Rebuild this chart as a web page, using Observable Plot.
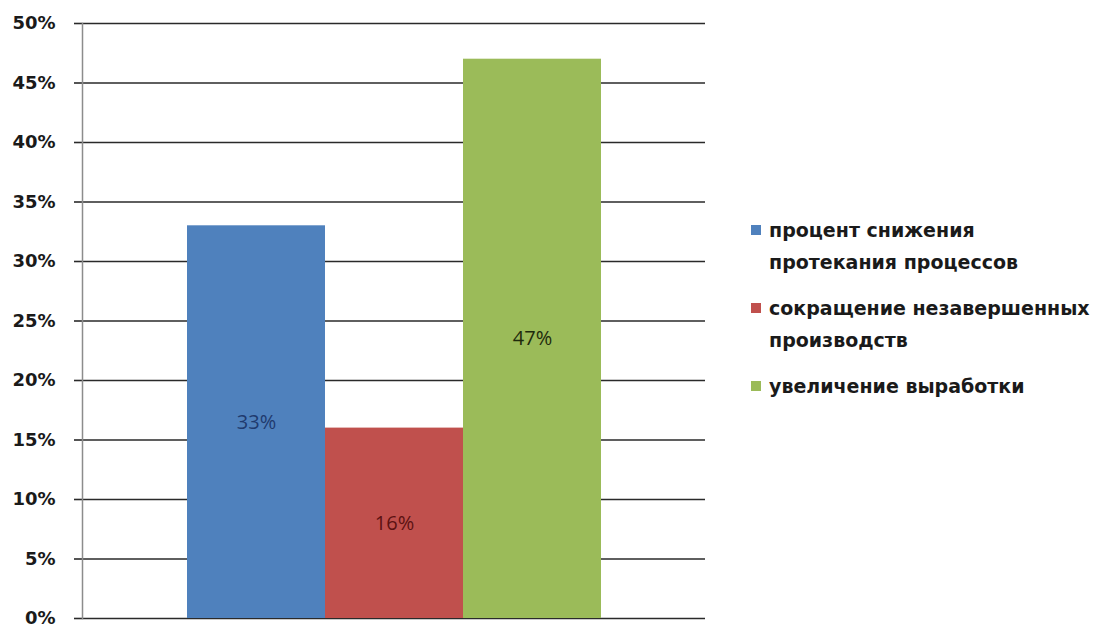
<!DOCTYPE html>
<html>
<head>
<meta charset="utf-8">
<script src="https://cdn.jsdelivr.net/npm/d3@7"></script>
<script src="https://cdn.jsdelivr.net/npm/@observablehq/plot@0.6"></script>
<style>
  html, body { margin: 0; padding: 0; background: #fff; }
  #wrap { position: relative; width: 1098px; height: 625px; overflow: hidden; }
  #chart { position: absolute; left: 0; top: 0; }
  #legend { position: absolute; left: 751px; top: 214px; font-family: "DejaVu Sans", sans-serif; font-weight: bold; font-size: 19px; color: #1a1a1a; white-space: nowrap; }
  .item { position: relative; padding-left: 18px; line-height: 32px; margin-bottom: 14px; }
  .sw { position: absolute; left: 0; top: 11px; width: 10px; height: 10px; }
</style>
</head>
<body>
<div id="wrap">
  <div id="chart"></div>
  <div id="legend"></div>
</div>
<script>
const categories = ["процент снижения протекания процессов", "сокращение незавершенных производств", "увеличение выработки"];
const legendLines = [["процент снижения", "протекания процессов"], ["сокращение незавершенных", "производств"], ["увеличение выработки"]];
const values = [0.33, 0.16, 0.47];
const labels = ["33%", "16%", "47%"];
const colors = ["#4f81bd", "#c0504d", "#9bbb59"];
const labelColors = ["#1f3a6e", "#5c1212", "#1e2a0c"];
const yTicks = [0, 0.05, 0.10, 0.15, 0.20, 0.25, 0.30, 0.35, 0.40, 0.45, 0.50];

const data = categories.map((c, i) => ({cat: c, value: values[i], label: labels[i], color: colors[i], lc: labelColors[i]}));

const chart = Plot.plot({
  width: 720,
  height: 625,
  marginLeft: 82,
  marginRight: 15,
  marginTop: 23,
  marginBottom: 7,
  style: {background: "transparent", overflow: "visible"},
  x: {domain: categories, paddingInner: 0, paddingOuter: 0.75, axis: null},
  y: {domain: [0, 0.5], axis: null},
  marks: [
    Plot.ruleY(yTicks, {stroke: "#2a2a2a", strokeWidth: 1.6}),
    Plot.axisY({ticks: yTicks, label: null, tickFormat: d => Math.round(d * 100) + "%", tickSize: 8, tickPadding: 19, stroke: "#2a2a2a", strokeWidth: 1.6,
      fontSize: 18, fontWeight: "bold", fontFamily: "DejaVu Sans", fill: "#1a1a1a"}),
    Plot.barY(data, {x: "cat", y: "value", fill: d => d.color}),
    Plot.frame({anchor: "left", stroke: "#8c8c8c", strokeWidth: 1.5}),
    Plot.text(data, {x: "cat", y: d => d.value / 2, text: "label", fill: d => d.lc, fontSize: 20, fontFamily: "Open Sans"})
  ]
});
document.getElementById("chart").appendChild(chart);

const leg = document.getElementById("legend");
legendLines.forEach((lines, i) => {
  const it = document.createElement("div");
  it.className = "item";
  const sw = document.createElement("div");
  sw.className = "sw";
  sw.style.background = colors[i];
  it.appendChild(sw);
  lines.forEach(l => { const d = document.createElement("div"); d.textContent = l; it.appendChild(d); });
  leg.appendChild(it);
});
</script>
</body>
</html>
